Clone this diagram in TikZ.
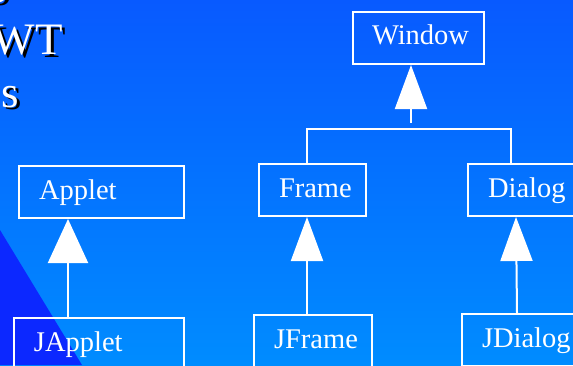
\documentclass[tikz,border=0pt]{standalone}
\usepackage{fontspec}
\setmainfont{Liberation Serif}
\usepackage{tikz}
\usetikzlibrary{arrows.meta}

\definecolor{bgtop}{RGB}{8,90,255}
\definecolor{bgbottom}{RGB}{0,140,255}
\definecolor{wedge}{RGB}{12,40,255}

\begin{document}
\begin{tikzpicture}[x=1pt, y=1pt,
	cls/.style={draw=white, line width=2pt, text=white, font=\fontsize{28.5}{30}\selectfont, anchor=north west, align=left, inner xsep=20pt, inner ysep=0pt, minimum height=52pt, text height=20pt, text depth=6pt},
	heading/.style={font=\fontsize{45}{50}\selectfont, anchor=base east, inner sep=0pt},
	inherit/.style={draw=white, line width=2pt, -{Triangle[width=32pt,length=44pt]}}]

	\useasboundingbox (0,0) rectangle (573,365);
	\clip (0,0) rectangle (573,365);
	\shade[top color=bgtop, bottom color=bgbottom] (0,0) rectangle (573,365);
	\fill[wedge] (0,135) -- (82,0) -- (0,0) -- cycle;

	\foreach \txt/\x/\y [count=\i] in {o/9/362, WT/63/310, s/19/258} {
		\node[heading, text=black] (shadow\i) at (\x+3,\y-3) {\txt};
		\node[heading, text=white] (heading\i) at (\x,\y) {\txt};
	}

	\node[cls, text width=93pt, inner xsep=19pt] (window) at (352,354) {Window};
	\node[cls, text width=125pt] (applet) at (18,200) {Applet};
	\node[cls, text width=67pt] (frame) at (258,202) {Frame};
	\node[cls, text width=90pt] (dialog) at (467,202) {Dialog};
	\node[cls, text width=130pt] (japplet) at (13,48) {JApplet};
	\node[cls, text width=78pt] (jframe) at (253,51) {JFrame};
	\node[cls, text width=90pt] (jdialog) at (461,52) {JDialog};

	\coordinate (appletjoin) at ([xshift=50pt]applet.south west);
	\coordinate (framejoin) at ([xshift=49pt]frame.south west);
	\coordinate (dialogjoin) at ([xshift=49pt]dialog.south west);
	\coordinate (windowjoin) at ([xshift=59pt]window.south west);
	\coordinate (bus) at (windowjoin |- 0,236);

	\draw[inherit, -{Triangle[width=40pt,length=44pt]}] (appletjoin |- japplet.north) -- (appletjoin);
	\draw[inherit] (framejoin |- jframe.north) -- (framejoin);
	\draw[inherit] ([xshift=1pt]dialogjoin |- jdialog.north) -- (dialogjoin);

	\draw[draw=white, line width=2pt] ([xshift=49pt]frame.north west) |- (bus) -| ([xshift=44pt]dialog.north west);
	\draw[inherit] ([yshift=6pt]bus) -- (windowjoin);

\end{tikzpicture}
\end{document}
